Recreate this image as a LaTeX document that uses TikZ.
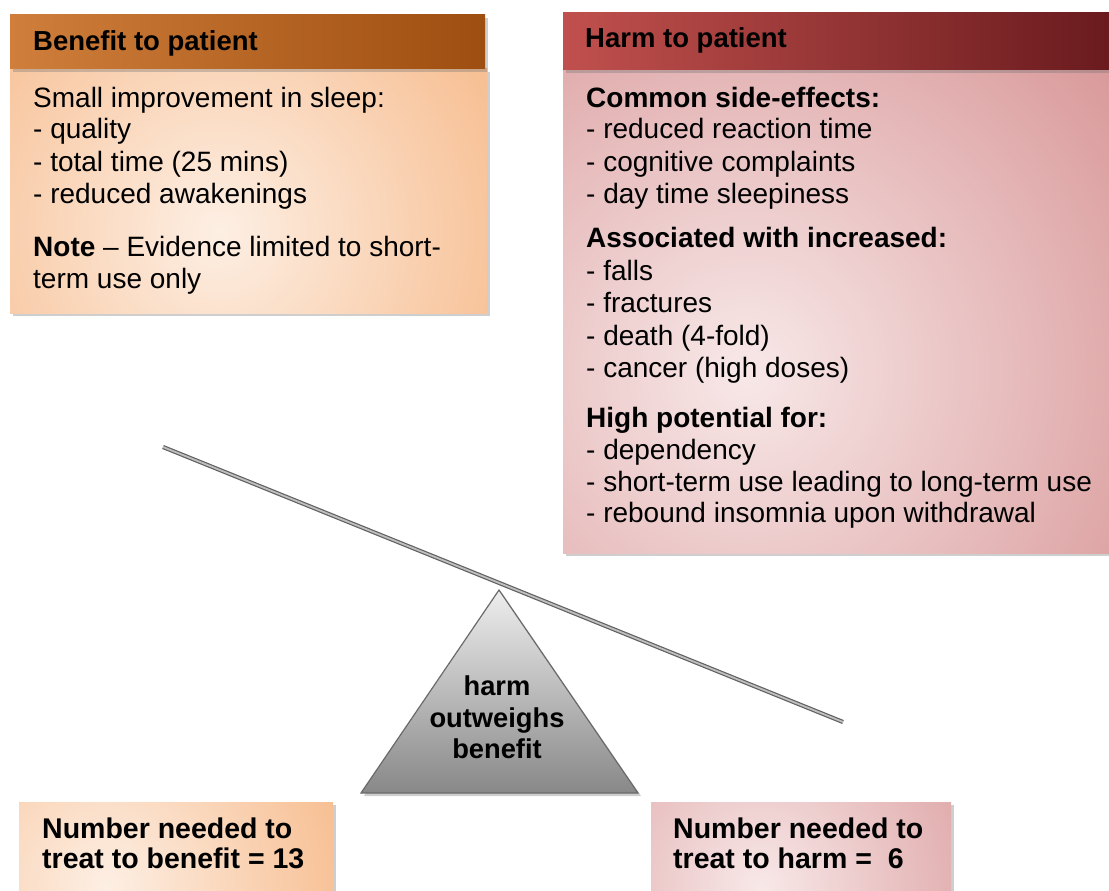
\documentclass[tikz,border=0pt]{standalone}
\usepackage{fontspec}
\setmainfont{Liberation Sans}
\usetikzlibrary{shadows,calc}
\definecolor{benHL}{HTML}{CF7E3B}
\definecolor{benHR}{HTML}{9E4E10}
\definecolor{benOut}{HTML}{F5AE76}
\definecolor{benIn}{HTML}{FDEFE4}
\definecolor{harmHL}{HTML}{C0504D}
\definecolor{harmHR}{HTML}{6A1B1E}
\definecolor{harmOut}{HTML}{D48B8C}
\definecolor{harmIn}{HTML}{F8E8E8}
\definecolor{triTop}{HTML}{EEEEEE}
\definecolor{triBot}{HTML}{888888}
\definecolor{triLine}{HTML}{6A6A6A}
\begin{document}
\begin{tikzpicture}[x=1pt,y=-1pt,
  shadowed/.style={drop shadow={shadow xshift=3pt,shadow yshift=-3pt,opacity=0.35,fill=black!55}},
  box/.style={shadowed,anchor=north west,inner sep=0pt,outer sep=0pt},
  txt/.style={anchor=base west,inner sep=0pt,font=\fontsize{28}{32}\selectfont},
  btxt/.style={txt,font=\fontsize{28}{32}\selectfont\bfseries},
  htxt/.style={txt,font=\fontsize{27.5}{32}\selectfont\bfseries},
  ntxt/.style={txt,font=\fontsize{28.5}{32}\selectfont\bfseries},
  ttxt/.style={anchor=base,inner sep=0pt,font=\fontsize{27.3}{32}\selectfont\bfseries},
  beam/.style={draw=black!62,line width=1.2pt,double=black!25,double distance=1.8pt}
]
\useasboundingbox (0,0) rectangle (1109,891);

% ---------- Benefit box ----------
\node[box,minimum width=477pt,minimum height=244pt,fill=benOut,
  path picture={\shade[inner color=benIn,outer color=benOut]
    ($(path picture bounding box.center)+(-30,40)$) circle (420pt);}] (benbody) at (10,69) {};
\node[box,minimum width=475pt,minimum height=54pt,left color=benHL,right color=benHR] (benhead) at (10,15) {};
\node[htxt] (benT) at (33,51) {Benefit to patient};
\foreach \n/\yy/\t in {b1/107/{Small improvement in sleep:},b2/139/{- quality},
  b3/171/{- total time (25 mins)},b4/203/{- reduced awakenings},
  b5/256/{\textbf{Note} -- Evidence limited to short-},b6/288/{term use only}}
  \node[txt] (\n) at (33,\yy) {\t};

% ---------- Harm box ----------
\node[box,minimum width=546pt,minimum height=483pt,fill=harmOut,
  path picture={\shade[inner color=harmIn,outer color=harmOut]
    ($(path picture bounding box.center)+(-90,60)$) circle (560pt);}] (harmbody) at (563,70) {};
\node[box,minimum width=546pt,minimum height=57pt,left color=harmHL,right color=harmHR] (harmhead) at (563,13) {};
\node[htxt] (harmT) at (585,48) {Harm to patient};
\foreach \n/\yy/\t in {h2/139/{- reduced reaction time},h3/171/{- cognitive complaints},
  h4/203/{- day time sleepiness},h6/280/{- falls},h7/312/{- fractures},
  h8/345/{- death (4-fold)},h9/377/{- cancer (high doses)},
  h11/459/{- dependency},h12/491/{- short-term use leading to long-term use},
  h13/522/{- rebound insomnia upon withdrawal}}
  \node[txt] (\n) at (586,\yy) {\t};
\node[btxt] (h1) at (586,107) {Common side-effects:};
\node[btxt] (h5) at (586,247) {Associated with increased:};
\node[btxt] (h10) at (586,427) {High potential for:};

% ---------- Seesaw ----------
\coordinate (apex) at (499,590);
\coordinate (tl) at (361,793);
\coordinate (tr) at (638,793);
\draw[shadowed,draw=triLine,line width=1.2pt,top color=triTop,bottom color=triBot]
  (apex) -- (tr) -- (tl) -- cycle;
\coordinate (bl) at (163,447);
\coordinate (br) at (843,722);
\draw[beam] (bl) -- (br);
\node[ttxt] (t1) at (497,695) {harm};
\node[ttxt] (t2) at (497,727) {outweighs};
\node[ttxt] (t3) at (497,758) {benefit};

% ---------- Bottom boxes ----------
\node[box,minimum width=314pt,minimum height=110pt,fill=benOut,
  path picture={\shade[inner color=benIn,outer color=benOut]
    ($(path picture bounding box.center)+(-70,30)$) circle (330pt);}] (nnb) at (19,802) {};
\node[ntxt] (nnb1) at (42,838) {Number needed to};
\node[ntxt] (nnb2) at (42,868) {treat to benefit = 13};

\node[box,minimum width=300pt,minimum height=110pt,fill=harmOut,
  path picture={\shade[inner color=harmIn,outer color=harmOut]
    ($(path picture bounding box.center)+(-40,30)$) circle (330pt);}] (nnh) at (651,802) {};
\node[ntxt] (nnh1) at (673,838) {Number needed to};
\node[ntxt] (nnh2) at (673,868) {treat to harm =\ \ 6};
\end{tikzpicture}
\end{document}
